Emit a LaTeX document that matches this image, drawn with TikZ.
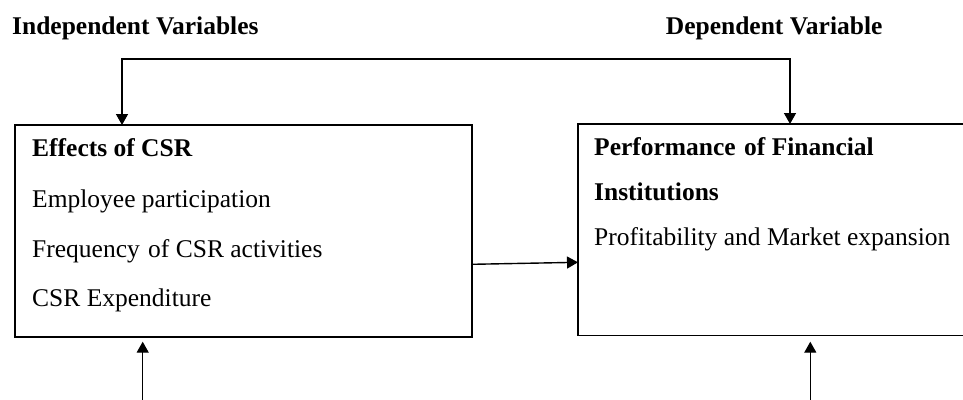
\documentclass[tikz,border=0pt]{standalone}
\usepackage{fontspec}
\setmainfont{Liberation Serif}
\usetikzlibrary{arrows.meta}
\begin{document}
\begin{tikzpicture}[x=1pt,y=1pt,
  framebox/.style={draw, line width=1.4pt, inner sep=0pt, outer sep=0pt, anchor=north west},
  txt/.style={anchor=base west, inner sep=0pt, font=\fontsize{25.5}{30}\selectfont},
  headtxt/.style={anchor=base west, inner sep=0pt, font=\fontsize{25.5}{30}\selectfont\bfseries},
  tip/.tip={Triangle[width=12pt,length=11pt]},
  link/.style={line width=1.4pt, -tip},
  twolink/.style={line width=1.4pt, tip-tip}
]
\useasboundingbox (0,0) rectangle (963,-399);
\clip (0,0) rectangle (963,-399);

% column headings
\node[headtxt] (indep) at (12,-34) {Independent Variables};
\node[headtxt] (dep) at (665.7,-34) {Dependent Variable};

% the two variable boxes
\node[framebox, minimum width=457pt, minimum height=212pt] (csr) at (15,-125) {};
\node[framebox, minimum width=420pt, minimum height=211.5pt] (perf) at (578,-124) {};

% contents of the left box
\node[headtxt] (csrhead) at (32,-156.7) {Effects of CSR};
\node[txt] (emp) at (32,-207.3) {Employee participation};
\node[txt] (freq) at (32,-257.7) {Frequency\hspace{2pt} of CSR activities};
\node[txt] (exp) at (32,-306) {CSR Expenditure};

% contents of the right box
\node[headtxt] (perfhead1) at (594,-155) {Performance\hspace{2pt} of Financial};
\node[headtxt] (perfhead2) at (594,-200) {Institutions};
\node[txt] (prof) at (594,-245) {Profitability and Market expansion};

% bracket joining both boxes from above
\coordinate (busL) at (122,-59);
\coordinate (busR) at (790,-59);
\draw[twolink] (csr.north -| busL) -- (busL) -- (busR) -- (perf.north -| busR);

% influence of the independent on the dependent variable
\draw[link] ([yshift=-139.3pt]csr.north east) -- ([yshift=-138.3pt]perf.north west);

% incoming arrows from below
\coordinate (srcL) at (142.7,-405);
\coordinate (srcR) at (810.3,-405);
\draw[link] (srcL) -- ([yshift=-4.7pt]csr.south -| srcL);
\draw[link] (srcR) -- ([yshift=-6.2pt]perf.south -| srcR);
\end{tikzpicture}
\end{document}
